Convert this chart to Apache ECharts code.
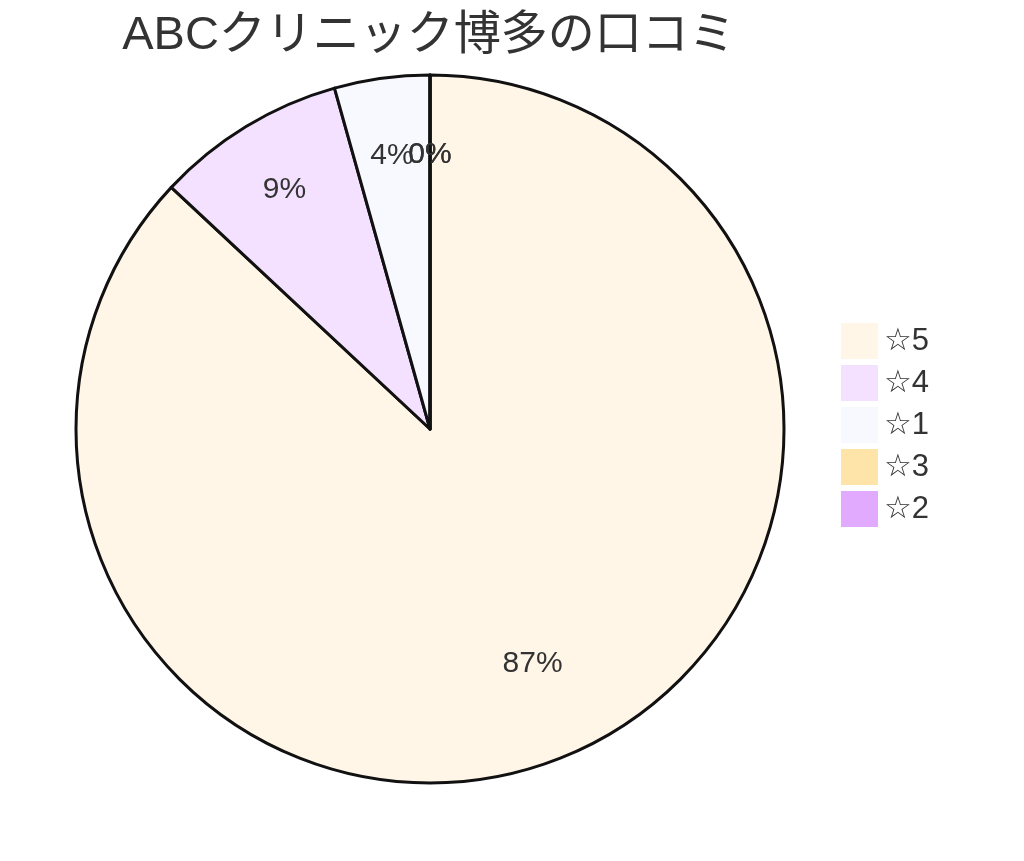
<!DOCTYPE html>
<html>
<head>
<meta charset="utf-8">
<script src="https://cdn.jsdelivr.net/npm/echarts@6/dist/echarts.min.js"></script>
<style>
html,body{margin:0;padding:0;background:#fff;}
#main{width:1024px;height:861px;}
</style>
</head>
<body>
<div id="main"></div>
<script>
var titleText = 'ABCクリニック博多の口コミ';
var categories = ['☆5', '☆4', '☆1', '☆3', '☆2'];
var counts = [20, 2, 1, 0, 0];
var colors = ['#FFF6E8', '#F4E1FF', '#F8F8FF', '#FFE4AA', '#E2AAFF'];

var FONT = "'Liberation Sans', 'DejaVu Sans', 'Noto Sans CJK JP', sans-serif";
var TITLE_FONT = "'Liberation Sans', 'Noto Sans CJK JP', sans-serif";
var data = categories.map(function (c, i) {
  return { name: c, value: counts[i], itemStyle: { color: colors[i] } };
});

var chart = echarts.init(document.getElementById('main'), null, { renderer: 'canvas' });
chart.setOption({
  backgroundColor: '#ffffff',
  animation: false,
  title: {
    text: titleText,
    left: 424,
    textAlign: 'center',
    top: 8,
    textStyle: { fontFamily: TITLE_FONT, fontSize: 47, fontWeight: 'normal', color: '#333333' }
  },
  legend: {
    orient: 'vertical',
    left: 841,
    top: 323,
    padding: 0,
    icon: 'rect',
    itemWidth: 37,
    itemHeight: 36,
    itemGap: 6,
    data: categories,
    itemStyle: { borderWidth: 0 },
    textStyle: { fontFamily: FONT, fontSize: 31, color: '#333333', padding: [0, 0, 0, 1] },
    selectedMode: false
  },
  series: [
    {
      type: 'pie',
      center: [430, 429],
      radius: [0, 354],
      startAngle: 90,
      clockwise: true,
      silent: true,
      data: data,
      label: { show: false },
      labelLine: { show: false },
      itemStyle: { borderColor: '#111111', borderWidth: 3 },
      emphasis: { disabled: true }
    },
    {
      type: 'pie',
      center: [430, 429],
      radius: [200, 354],
      startAngle: 90,
      clockwise: true,
      silent: true,
      data: categories.map(function (c, i) { return { name: c, value: counts[i] }; }),
      itemStyle: { color: 'rgba(0,0,0,0)', borderWidth: 0 },
      label: {
        show: true,
        position: 'inside',
        fontFamily: FONT,
        fontSize: 30,
        color: '#333333',
        formatter: function (p) { return Math.round(p.percent) + '%'; }
      },
      labelLine: { show: false },
      labelLayout: function (p) {
        if (p.dataIndex === 0) { return { dx: -9, dy: -22 }; }
        if (p.dataIndex >= 3) { return { dy: 6 }; }
        if (p.dataIndex === 2) { return { dy: 4 }; }
        return {};
      },
      emphasis: { disabled: true }
    }
  ]
});
</script>
</body>
</html>
